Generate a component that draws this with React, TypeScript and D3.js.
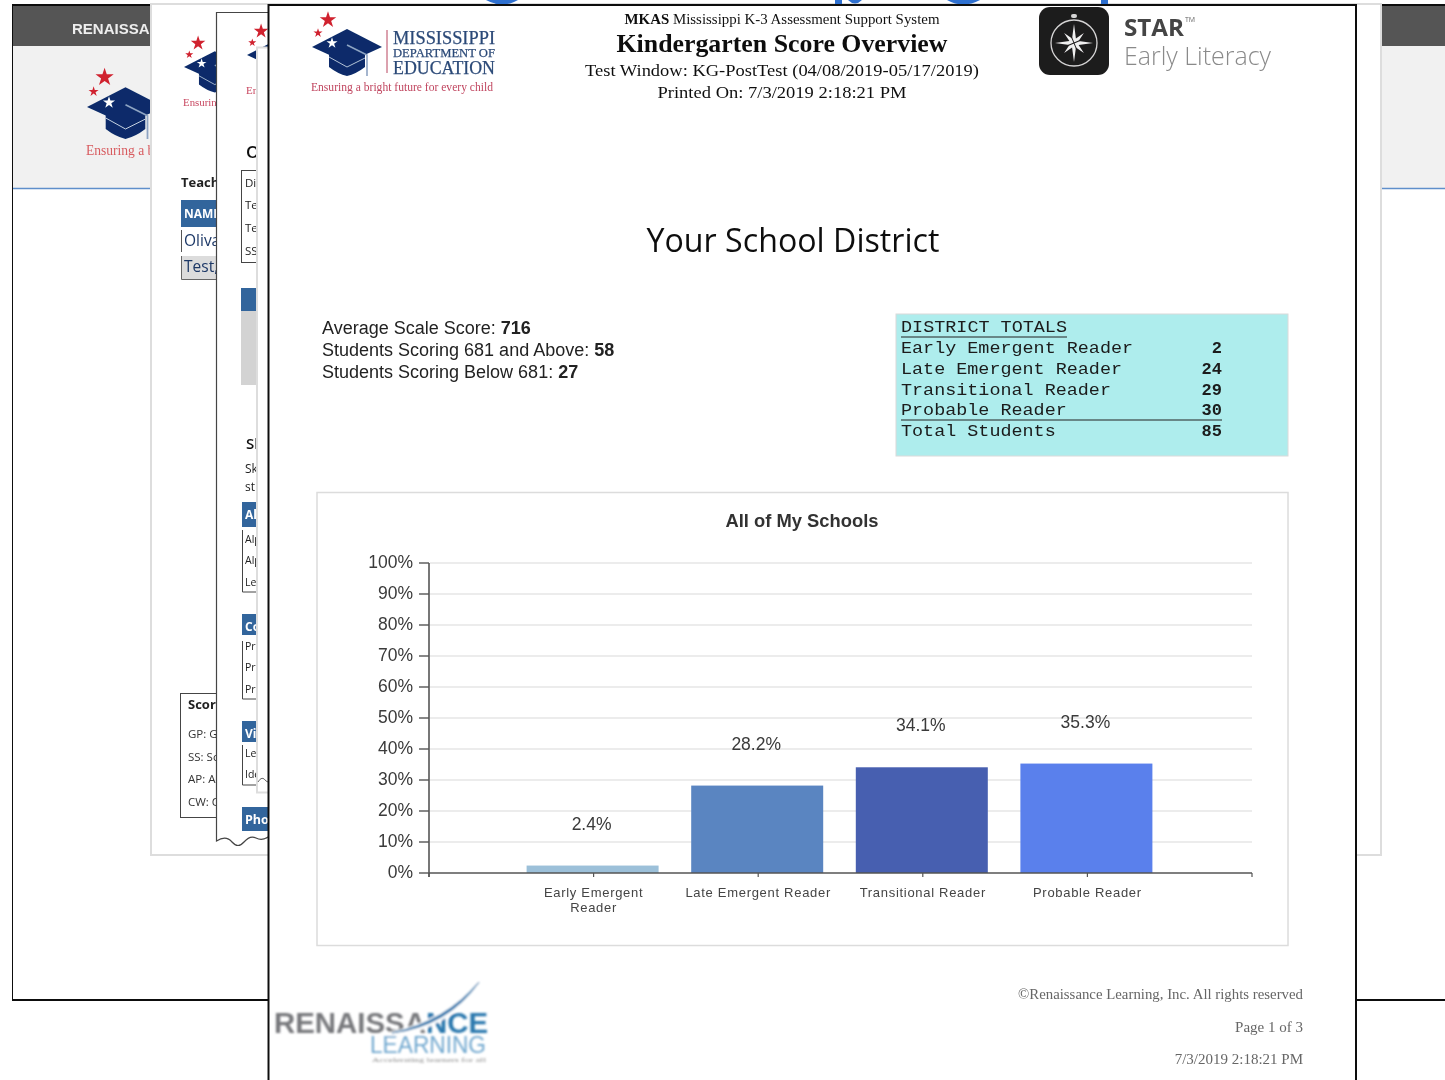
import React from "react";
import * as d3 from "d3";

const categories = ["Early Emergent Reader", "Late Emergent Reader", "Transitional Reader", "Probable Reader"];
const categoryLines = [["Early Emergent", "Reader"], ["Late Emergent Reader"], ["Transitional Reader"], ["Probable Reader"]];
const percentValues = [2.4, 28.2, 34.1, 35.3];
const barColors = ["#9cc0d9", "#5a85c1", "#465fb0", "#5a80ec"];
const yTicks = [0, 10, 20, 30, 40, 50, 60, 70, 80, 90, 100];
const totalsLabels = ["Early Emergent Reader", "Late Emergent Reader", "Transitional Reader", "Probable Reader", "Total Students"];
const totalsValues = [2, 24, 29, 30, 85];
const statLabels = ["Average Scale Score: ", "Students Scoring 681 and Above: ", "Students Scoring Below 681: "];
const statValues = [716, 58, 27];

const SERIF = "'Liberation Serif', serif";
const SANS = "'Liberation Sans', sans-serif";
const NOTO = "'Open Sans', 'Noto Sans', sans-serif";
const MONO = "'Liberation Mono', monospace";
const BLUE = "#33659c";

const x = d3.scalePoint<string>().domain(["__start", ...categories, "__end"]).range([429, 1252]);
const y = d3.scaleLinear().domain([0, 100]).range([873, 563]);
const BAR_W = 132;

function star(cx: number, cy: number, area: number, fill: string) {
  return <path transform={`translate(${cx},${cy})`} d={d3.symbol(d3.symbolStar, area)() || ""} fill={fill} />;
}

function Logo({ lx, ly, s, text, color, len }: { lx: number; ly: number; s: number; text: string; color: string; len: number }) {
  return (
    <g transform={`translate(${lx},${ly}) scale(${s})`}>
      {star(16, -27, 85, "#d0202e")}
      {star(6, -14, 26, "#d0202e")}
      <path d="M17,4 L17,20 Q26,27 35,29 Q44,27 53,20 L53,4 L35,14 Z" fill="#0a2c6a" />
      <path d="M17,10 L35,20 L53,11" fill="none" stroke="#c8d2e2" strokeWidth={0.9} />
      <path d="M0,0 L35,-18 L70,0 L35,16 Z" fill="#0a2c6a" />
      {star(20, -4, 38, "#ffffff")}
      <path d="M35,-2 L55,8 L55,29" fill="none" stroke="#8ea3c2" strokeWidth={1.6} />
      <text x={-1} y={44} fontFamily={SERIF} fontSize={12.5} fill={color} textLength={len} lengthAdjust="spacingAndGlyphs">{text}</text>
    </g>
  );
}

function Compass() {
  const radii = [19, 5, 14, 5, 19, 5, 14, 5, 19, 5, 14, 5, 19, 5, 14, 5];
  const points = radii.map((r, i) => [(i * Math.PI) / 8, r] as [number, number]);
  const d = d3.lineRadial().curve(d3.curveLinearClosed)(points) || "";
  return (
    <g>
      <rect x={1039} y={7} width={70} height={68} rx={11} fill="#1f1d1e" />
      <circle cx={1074} cy={43} r={23} fill="none" stroke="#d5d5d5" strokeWidth={1.3} />
      <rect x={1071} y={14} width={6} height={4} rx={2} fill="#d5d5d5" />
      <path transform="translate(1074,43)" d={d} fill="#f0f0f0" />
      <path transform="translate(1074,43) rotate(22.5)" d="M-6,-6 L6,6 M-6,6 L6,-6" stroke="#1f1d1e" strokeWidth={1} />
    </g>
  );
}

function Background() {
  return (
    <g>
      {/* layer 1 */}
      <rect x={12} y={5} width={1500} height={995} fill="#fff" stroke="#111" strokeWidth={2} />
      <rect x={13} y={6} width={1440} height={40} fill="#555555" />
      <rect x={13} y={46} width={1440} height={142} fill="#f1f1f1" />
      <line x1={13} x2={1445} y1={188.5} y2={188.5} stroke="#5f8fcb" strokeWidth={1.5} />
      <text x={72} y={34} fontFamily={SANS} fontWeight={700} fontSize={15} fill="#eeeeee">RENAISSANCE</text>
      <Logo lx={87} ly={107} s={1.1} text="Ensuring a bright future" color="#d85c60" len={118} />

      {/* layer 2 */}
      <rect x={151} y={4} width={1230} height={851} fill="#fff" stroke="#dddddd" strokeWidth={2} />
      <Logo lx={184} ly={67} s={0.88} text="Ensuring a bright" color="#c8465f" len={85} />
      <text x={181} y={187} fontFamily={NOTO} fontWeight={700} fontSize={13} fill="#222">Teacher</text>
      <rect x={181} y={200} width={60} height={27} fill={BLUE} />
      <text x={184} y={218} fontFamily={NOTO} fontWeight={700} fontSize={12} fill="#fff">NAME</text>
      <line x1={181.5} x2={181.5} y1={230} y2={252} stroke="#555" />
      <text x={184} y={246} fontFamily={NOTO} fontSize={15.5} fill="#1c3766">Olivas</text>
      <rect x={181} y={256} width={60} height={23} fill="#dcdcdc" />
      <path d="M181.5,256 V279.5 H241" fill="none" stroke="#666" />
      <text x={184} y={272} fontFamily={NOTO} fontSize={15.5} fill="#1c3766">Test,</text>
      <rect x={180.5} y={693.5} width={80} height={124} fill="#fff" stroke="#444" />
      <text x={188} y={709} fontFamily={NOTO} fontWeight={700} fontSize={13} fill="#222">Score</text>
      {["GP: Growth", "SS: Scale", "AP: Alpha", "CW: Correct"].map((t, i) => (
        <text key={t} x={188} y={[738, 761, 783, 806][i]} fontFamily={NOTO} fontSize={11.5} fill="#333">{t}</text>
      ))}

      {/* layer 3 */}
      <path d="M216.5,12.5 L300,12.5 L300,840 L268,837 Q262,841 256,838 T244,842 T232,842 T216.5,841 Z" fill="#fff" stroke="#444" strokeWidth={1.2} />
      <Logo lx={247} ly={55} s={0.88} text="Ensuring" color="#c8465f" len={45} />
      <text x={246} y={158} fontFamily={NOTO} fontWeight={600} fontSize={17} fill="#111">Overview</text>
      <rect x={241.5} y={170.5} width={40} height={92} fill="none" stroke="#444" />
      {["District", "Teacher", "Test", "SS"].map((t, i) => (
        <text key={i} x={245} y={[187, 209, 232, 255][i]} fontFamily={NOTO} fontSize={11.5} fill="#222">{t}</text>
      ))}
      <rect x={241} y={288} width={30} height={23} fill={BLUE} />
      <rect x={241} y={311} width={30} height={74} fill="#d3d3d3" />
      <text x={246} y={449} fontFamily={NOTO} fontWeight={600} fontSize={15} fill="#111">Skills</text>
      <text x={245} y={473} fontFamily={NOTO} fontSize={12} fill="#222">Skill</text>
      <text x={245} y={491} fontFamily={NOTO} fontSize={12} fill="#222">st</text>
      {[
        { h: "Alphabetic", top: 502, bot: 527, lt: 530, lb: 592, rows: ["Alpha", "Alpha", "Letter"], ys: [543, 564, 586] },
        { h: "Concept", top: 614, bot: 635, lt: 641, lb: 699, rows: ["Print", "Print", "Print"], ys: [650, 671, 693] },
        { h: "Visual", top: 721, bot: 742, lt: 745, lb: 785, rows: ["Letter", "Identify"], ys: [757, 778] },
      ].map((b) => (
        <g key={b.h}>
          <rect x={242} y={b.top} width={30} height={b.bot - b.top} fill={BLUE} />
          <text x={245} y={b.top + 17} fontFamily={NOTO} fontWeight={700} fontSize={12} fill="#fff">{b.h}</text>
          <path d={`M242.5,${b.lt} V${b.lb} H270`} fill="none" stroke="#444" />
          {b.rows.map((r, i) => (
            <text key={i} x={245} y={b.ys[i]} fontFamily={NOTO} fontSize={10.5} fill="#222">{r}</text>
          ))}
        </g>
      ))}
      <rect x={242} y={807} width={40} height={24} fill={BLUE} />
      <text x={245} y={824} fontFamily={NOTO} fontWeight={700} fontSize={12.5} fill="#fff">Phonics</text>

      {/* layer 4 */}
      <rect x={257} y={47.5} width={40} height={745} fill="#fff" stroke="#dddddd" strokeWidth={2} />
      <path d="M258,782 Q262,775 266,781 L270,783" fill="none" stroke="#444" strokeWidth={0.8} />

      {/* text from the slide heading, cut by the top of the page */}
      <path d="M486,0 Q502,9 518,0 Z M947,0 Q963,9 980,0 Z" fill="#2e6fd0" />
      <rect x={835} y={0} width={7} height={5} fill="#2e6fd0" />
      <path d="M848,0 Q855,7 862,0 Z" fill="#2e6fd0" />
      <rect x={1101} y={0} width={7} height={5} fill="#2e6fd0" />
    </g>
  );
}

function RenaissanceLogo() {
  return (
    <g>
      <text x={274} y={1033} fontFamily={SANS} fontWeight={700} fontSize={29} textLength={214} lengthAdjust="spacingAndGlyphs">
        <tspan fill="#77787c">RENAISSA</tspan>
        <tspan fill="#2a78ae">NCE</tspan>
      </text>
      <path d="M388,1034 Q445,1022 479,982 Q450,1028 388,1037 Z" fill="#fff" stroke="#fff" strokeWidth={3} />
      <path d="M392,1033 Q445,1022 479,982 Q448,1026 392,1033 Z" fill="#2a78ae" stroke="#2a78ae" strokeWidth={1} />
      <text x={370} y={1053} fontFamily={SANS} fontSize={24} fill="#70a7cf" textLength={116} lengthAdjust="spacingAndGlyphs">LEARNING</text>
      <text x={372} y={1062} fontFamily={SERIF} fontSize={6} fill="#888" textLength={114} lengthAdjust="spacingAndGlyphs">Accelerating learners for all</text>
    </g>
  );
}

function Chart() {
  const fmt = (d: number) => `${d}%`;
  return (
    <g>
      <rect x={317} y={492.5} width={971} height={453} fill="#fff" stroke="#dcdcdc" strokeWidth={1.5} />
      <text x={802} y={527} textAnchor="middle" fontFamily={SANS} fontWeight={700} fontSize={18} fill="#333" textLength={153} lengthAdjust="spacingAndGlyphs">All of My Schools</text>
      {yTicks.map((t) => (
        <g key={t}>
          {t > 0 && <line x1={430} x2={1252} y1={y(t)} y2={y(t)} stroke="#e6e6e6" strokeWidth={1.6} />}
          <line x1={419} x2={429} y1={y(t)} y2={y(t)} stroke="#555" strokeWidth={1.4} />
          <text x={413} y={y(t) + 5} textAnchor="end" fontFamily={SANS} fontSize={17.5} fill="#3a3a3a">{fmt(t)}</text>
        </g>
      ))}
      {categories.map((c, i) => (
        <rect key={c} x={(x(c) as number) - BAR_W / 2 - 1} width={BAR_W} y={y(percentValues[i])} height={y(0) - y(percentValues[i])} fill={barColors[i]} />
      ))}
      <line x1={429} x2={429} y1={563} y2={877} stroke="#555" strokeWidth={1.6} />
      <line x1={429} x2={1252} y1={873} y2={873} stroke="#555" strokeWidth={1.6} />
      {x.domain().map((d) => (
        <line key={d} x1={x(d)} x2={x(d)} y1={873} y2={877} stroke="#555" strokeWidth={1.2} />
      ))}
      {categories.map((c, i) => (
        <g key={c}>
          <text x={(x(c) as number) - 2} y={y(percentValues[i]) - 36} textAnchor="middle" fontFamily={SANS} fontSize={17.5} fill="#3a3a3a">{percentValues[i].toFixed(1)}%</text>
          {categoryLines[i].map((line, j) => (
            <text key={j} x={x(c)} y={897 + j * 15} textAnchor="middle" fontFamily={SANS} fontSize={13} letterSpacing={0.7} fill="#444">{line}</text>
          ))}
        </g>
      ))}
    </g>
  );
}

function Totals() {
  const ys = [353, 374, 395, 415, 436];
  return (
    <g fontFamily={MONO} fontSize={16.5} fill="#1a1a1a">
      <rect x={896} y={314} width={392} height={142} fill="#aeeded" stroke="#dadada" />
      <text x={901} y={332} textLength={166} lengthAdjust="spacingAndGlyphs">DISTRICT TOTALS</text>
      <line x1={901} x2={1067} y1={337} y2={337} stroke="#222" strokeWidth={1.2} />
      {totalsLabels.map((l, i) => (
        <g key={l}>
          <text x={901} y={ys[i]} textLength={l.length * 11.05} lengthAdjust="spacingAndGlyphs">{l}</text>
          <text x={1222} y={ys[i]} textAnchor="end" fontWeight={700} fontSize={17}>{totalsValues[i]}</text>
        </g>
      ))}
      <line x1={901} x2={1222} y1={420} y2={420} stroke="#222" strokeWidth={1.2} />
    </g>
  );
}

export default function App() {
  return (
    <svg width={1445} height={1080} viewBox="0 0 1445 1080" style={{ position: "absolute", left: 0, top: 0, background: "#fff" }}>
      <defs>
        <filter id="soft" x="0" y="0" width="100%" height="100%">
          <feGaussianBlur stdDeviation="0.35" />
        </filter>
        <filter id="softer" x="-5%" y="-5%" width="110%" height="110%">
          <feGaussianBlur stdDeviation="0.8" />
        </filter>
      </defs>
      <g filter="url(#soft)">
        <Background />
        {/* main page */}
        <rect x={268.5} y={5} width={1087.5} height={1090} fill="#fff" stroke="#111" strokeWidth={2} />
        <Logo lx={312} ly={47} s={1} text="Ensuring a bright future for every child" color="#c0455f" len={182} />
        <line x1={387} x2={387} y1={30} y2={73} stroke="#b8455f" strokeWidth={1} />
        <g fontFamily={SERIF} fill="#2c4a78" stroke="#2c4a78" strokeWidth={0.25}>
          <text x={393} y={44} fontSize={18} textLength={102} lengthAdjust="spacingAndGlyphs">MISSISSIPPI</text>
          <text x={393} y={57} fontSize={13} textLength={102} lengthAdjust="spacingAndGlyphs">DEPARTMENT OF</text>
          <text x={393} y={74} fontSize={18} textLength={102} lengthAdjust="spacingAndGlyphs">EDUCATION</text>
        </g>
        <Compass />
        <text x={1124} y={36} fontFamily={NOTO} fontWeight={700} fontSize={24} fill="#444" textLength={60} lengthAdjust="spacingAndGlyphs">STAR</text>
        <text x={1185} y={22} fontFamily={NOTO} fontSize={7} fill="#666">TM</text>
        <text x={1124} y={65} fontFamily={NOTO} fontWeight={300} fontSize={25} fill="#8a8a8a" textLength={147} lengthAdjust="spacingAndGlyphs">Early Literacy</text>

        <g fontFamily={SERIF} fill="#111" textAnchor="middle">
          <text x={782} y={24} fontSize={15} textLength={315} lengthAdjust="spacingAndGlyphs"><tspan fontWeight={700}>MKAS</tspan> Mississippi K-3 Assessment Support System</text>
          <text x={782} y={52} fontSize={25} fontWeight={700} textLength={331} lengthAdjust="spacingAndGlyphs">Kindergarten Score Overview</text>
          <text x={782} y={76} fontSize={17.5} textLength={394} lengthAdjust="spacingAndGlyphs">Test Window: KG-PostTest (04/08/2019-05/17/2019)</text>
          <text x={782} y={98} fontSize={17.5} textLength={249} lengthAdjust="spacingAndGlyphs">Printed On: 7/3/2019 2:18:21 PM</text>
        </g>
        <text x={793} y={252} textAnchor="middle" fontFamily={NOTO} fontSize={33} fill="#111" textLength={293} lengthAdjust="spacingAndGlyphs">Your School District</text>
        {statLabels.map((l, i) => (
          <text key={l} x={322} y={[334, 356, 378][i]} fontFamily={SANS} fontSize={18} fill="#222">
            {l}<tspan fontWeight={700}>{statValues[i]}</tspan>
          </text>
        ))}
        <Totals />
        <Chart />
        <g fontFamily={SERIF} fontSize={15} fill="#666" textAnchor="end">
          <text x={1303} y={999} textLength={285} lengthAdjust="spacingAndGlyphs">©Renaissance Learning, Inc. All rights reserved</text>
          <text x={1303} y={1032}>Page 1 of 3</text>
          <text x={1303} y={1064}>7/3/2019 2:18:21 PM</text>
        </g>
      </g>
      <g filter="url(#softer)">
        <RenaissanceLogo />
      </g>
    </svg>
  );
}
